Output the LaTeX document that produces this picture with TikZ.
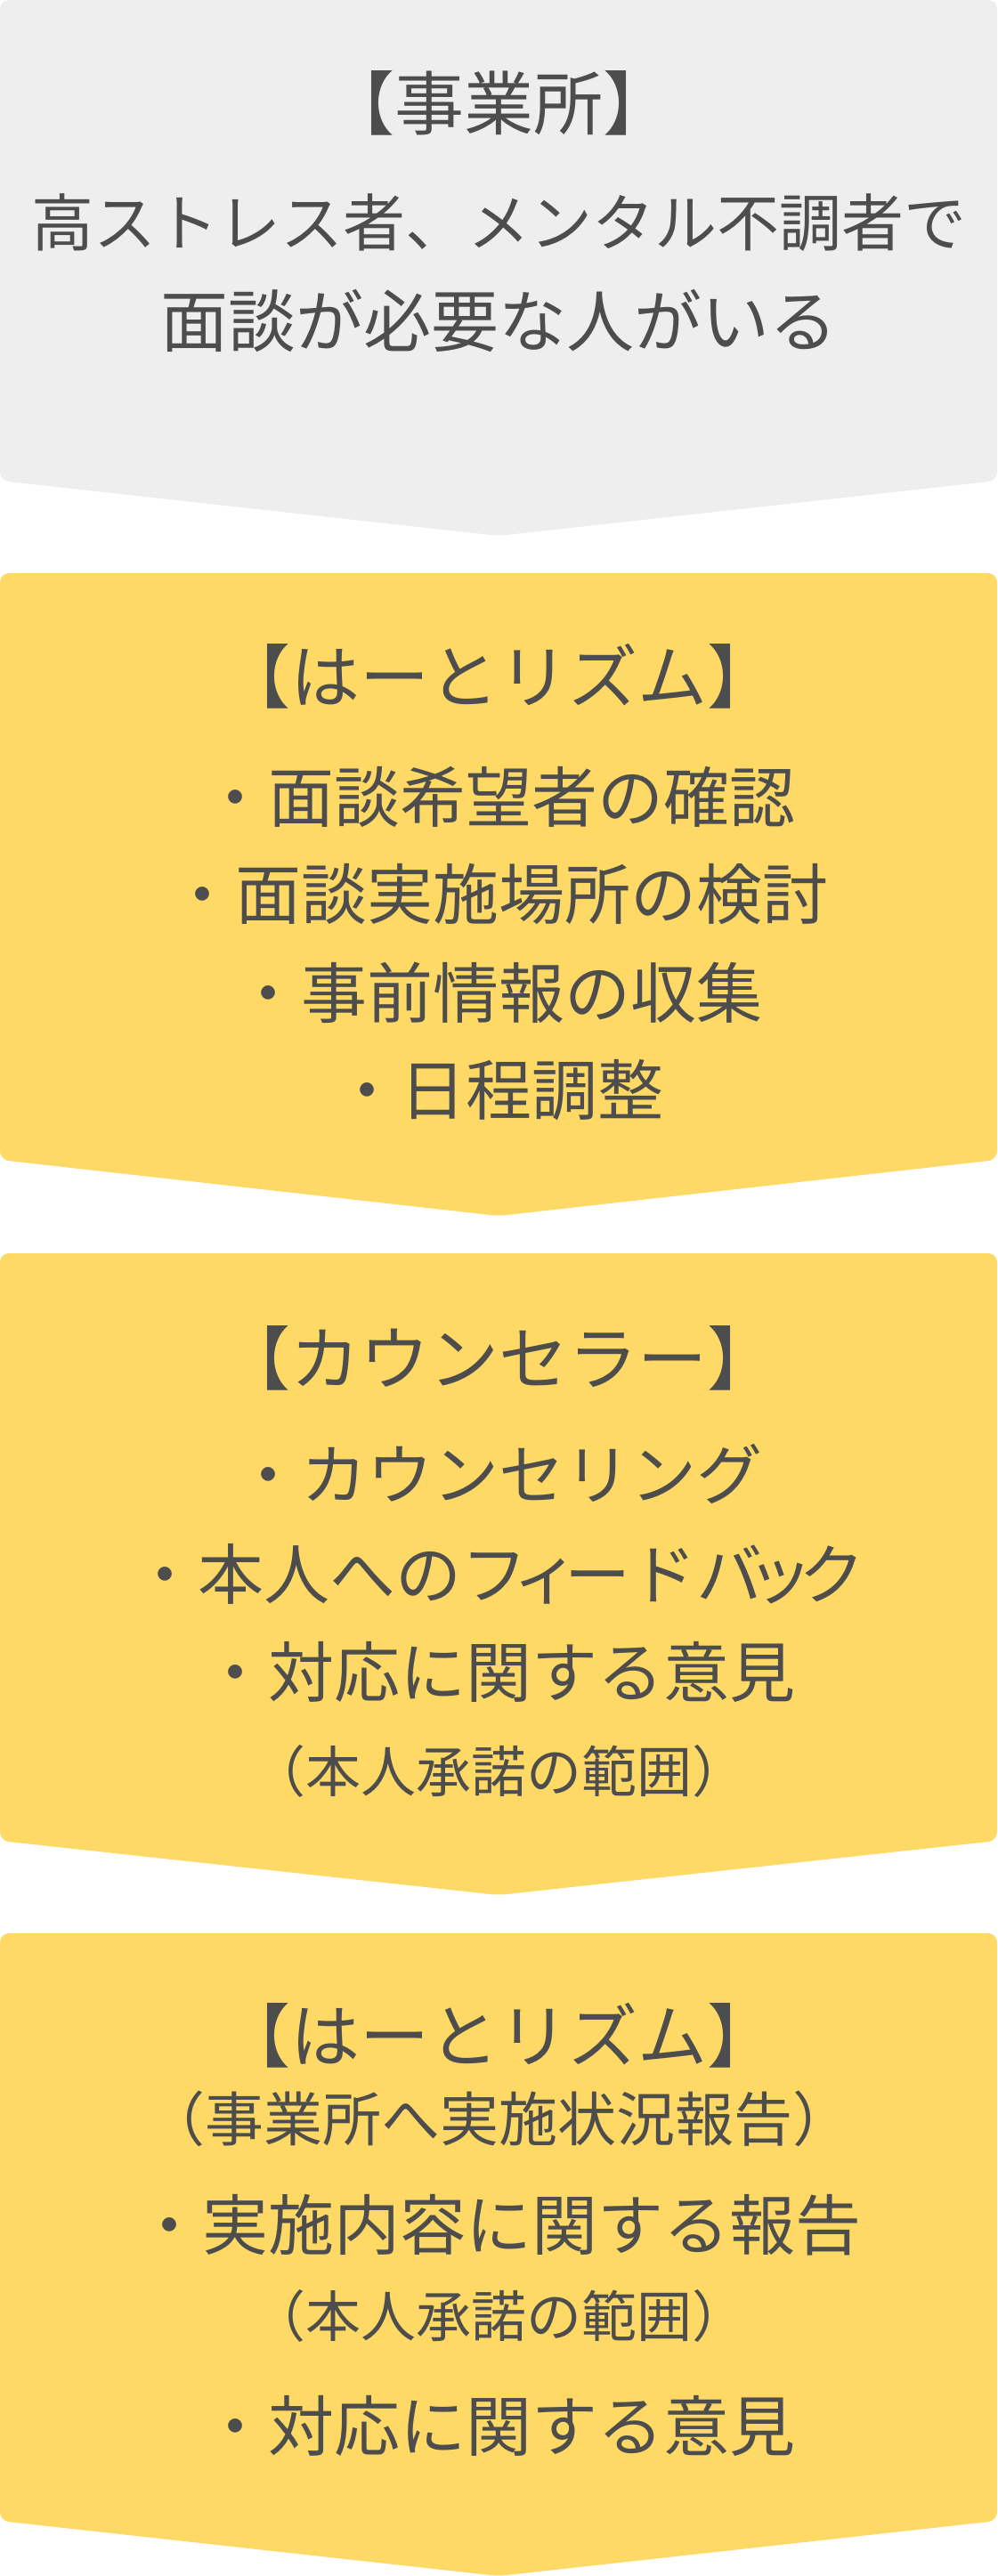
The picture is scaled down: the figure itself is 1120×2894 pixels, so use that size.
\documentclass[tikz,border=0pt]{standalone}
\usepackage{fontspec}
\setmainfont{Noto Sans CJK JP}
\definecolor{boxgray}{HTML}{EEEEEE}
\definecolor{boxyellow}{HTML}{FFD966}
\definecolor{txtgray}{HTML}{4D4D4D}

\begin{document}
\begin{tikzpicture}[x=1pt,y=-1pt,node distance=110pt,
    chevron/.style={rounded corners=10pt},
    head/.style={inner sep=0pt,text=txtgray,font=\fontsize{78}{78}\selectfont},
    item/.style={inner sep=0pt,text=txtgray,font=\fontsize{74}{74}\selectfont},
    note/.style={inner sep=0pt,text=txtgray,font=\fontsize{62}{62}\selectfont}]
            \useasboundingbox (0,0) rectangle (1120,2894);

            % boxes
            \fill[chevron, boxgray] (0,0) -- (1120,0) -- (1120,540) -- (560,602) -- (0,540) -- cycle;
            \fill[chevron, boxyellow] (0,644) -- (1120,644) -- (1120,1303) -- (560,1366) -- (0,1303) -- cycle;
            \fill[chevron, boxyellow] (0,1408) -- (1120,1408) -- (1120,2068) -- (560,2129) -- (0,2068) -- cycle;
            \fill[chevron, boxyellow] (0,2172) -- (1120,2172) -- (1120,2832) -- (560,2894) -- (0,2832) -- cycle;

            % office
            \node [head](office) at (560,116){\kern-.5em【事業所】\kern-.5em};
            \node [item, font=\fontsize{70}{70}\selectfont](office1) at (560,250){高ストレス者、メンタル不調者で};
            \node [item, font=\fontsize{76}{76}\selectfont](office2) [below of=office1]{面談が必要な人がいる};

            % heart rhythm (before)
            \node [head](hr1) at (560,760){\kern-.5em【はーとリズム】\kern-.5em};
            \node [item](hr1a) at (560,895){・面談希望者の確認};
            \node [item](hr1b) [below of=hr1a]{・面談実施場所の検討};
            \node [item](hr1c) [below of=hr1b]{・事前情報の収集};
            \node [item](hr1d) [below of=hr1c]{・日程調整};

            % counselor
            \node [head](cns) at (560,1526){\kern-.5em【カウンセラー】\kern-.5em};
            \node [item](cns1) at (560,1656){・カウンセリング};
            \node [item](cns2) [below of=cns1, yshift=-2]{・本人へのフ\kern-.22em ィ\kern-.22em ードバ\kern-.22em ッ\kern-.22em ク};
            \node [item](cns3) [below of=cns2]{・対応に関する意見};
            \node [note](cns4) [below of=cns3, yshift=-2]{\kern-.5em（本人承諾の範囲）\kern-.5em};

            % heart rhythm (after)
            \node [head](hr2) at (560,2287){\kern-.5em【はーとリズム】\kern-.5em};
            \node [note, font=\fontsize{66}{66}\selectfont](hr2a) at (560,2380){\kern-.5em（事業所へ実施状況報告）\kern-.5em};
            \node [item](hr2b) at (560,2500){・実施内容に関する報告};
            \node [note](hr2c) at (560,2602){\kern-.5em（本人承諾の範囲）\kern-.5em};
            \node [item](hr2d) at (560,2725){・対応に関する意見};
        \end{tikzpicture}
\end{document}
